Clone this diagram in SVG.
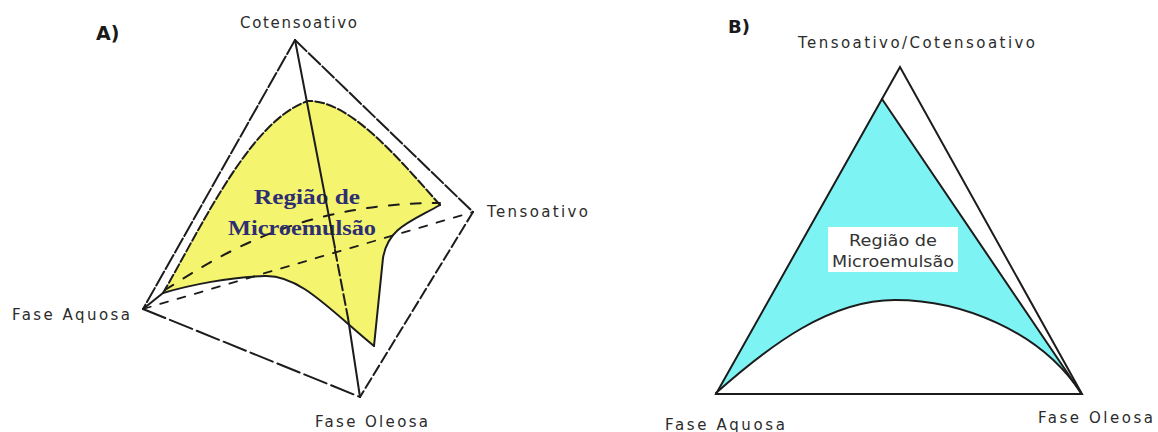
<svg xmlns="http://www.w3.org/2000/svg" width="1158" height="432" viewBox="0 0 1158 432">
  <style>
    .lbl { font-family: "DejaVu Sans", "Liberation Sans", sans-serif; font-size: 15px; fill: #2b2b2b; }
    .ttl { font-family: "DejaVu Sans", "Liberation Sans", sans-serif; font-weight: bold; fill: #1a1a1a; }
    .edge { fill: none; stroke: #1c1c1c; stroke-width: 2; stroke-linecap: round; }
    .d1 { stroke-dasharray: 16 3; }
    .d2 { stroke-dasharray: 24 5; }
    .d3 { stroke-dasharray: 11 4; }
    .hid { stroke-dasharray: 8 10; stroke-width: 1.8; }
    .regA { font-family: "Liberation Serif", serif; font-weight: bold; font-size: 20px; fill: #2e2e72; }
    .regB { font-family: "DejaVu Sans", "Liberation Sans", sans-serif; font-size: 15px; fill: #333; }
  </style>
  <rect width="1158" height="432" fill="#ffffff"/>

  <!-- Panel A -->
  <text class="ttl" x="96" y="40" font-size="19">A)</text>

  <g id="regiaoA">
    <path d="M163,293 C200,230 250,120 308,101 C350,100 400,160 440,205 C410,222 388,228 383,258 L374,346 C330,310 300,275 265,276 C230,277 190,285 163,293 Z" fill="#f4f46e" stroke="none"/>
    <path class="edge" d="M163,293 C200,230 250,120 308,101 C350,100 400,160 440,205" stroke-dasharray="9 3"/>
    <path class="edge" d="M440,205 C410,222 388,228 383,258 L374,346" stroke-width="1.8"/>
    <path class="edge" d="M374,346 C330,310 300,275 265,276 C230,277 190,285 163,293"/>
    <path class="edge" d="M165,290 C220,255 300,203 440,203" stroke-dasharray="10 12" stroke-width="1.6"/>
    <text class="regA" x="254" y="204" textLength="106" lengthAdjust="spacingAndGlyphs">Região de</text>
    <text class="regA" x="228" y="235" textLength="148" lengthAdjust="spacingAndGlyphs">Microemulsão</text>
  </g>

  <g id="conectoresA">
    <line class="edge d1" x1="295" y1="40" x2="143" y2="309"/>
    <line class="edge d1" x1="295" y1="40" x2="473" y2="212"/>
    <line class="edge" x1="295" y1="40" x2="335" y2="248"/>
    <line class="edge d3" x1="335" y1="250" x2="348" y2="318"/>
    <line class="edge" x1="348" y1="318" x2="360" y2="397"/>
    <line class="edge d2" x1="143" y1="309" x2="360" y2="397"/>
    <line class="edge d3" x1="473" y1="212" x2="360" y2="397"/>
    <line class="edge hid" x1="143" y1="309" x2="473" y2="212"/>
    <line class="edge" x1="143" y1="309" x2="163" y2="293" stroke-width="1.6"/>
  </g>

  <g id="cotensoativo">
    <text class="lbl" x="240" y="28" textLength="117" lengthAdjust="spacing">Cotensoativo</text>
  </g>
  <g id="tensoativo">
    <text class="lbl" x="487" y="217" textLength="101" lengthAdjust="spacing">Tensoativo</text>
  </g>
  <g id="faseAquosaA">
    <text class="lbl" x="12" y="320" textLength="118" lengthAdjust="spacing">Fase Aquosa</text>
  </g>
  <g id="faseOleosaA">
    <text class="lbl" x="315" y="427" textLength="113" lengthAdjust="spacing">Fase Oleosa</text>
  </g>

  <!-- Panel B -->
  <text class="ttl" x="728" y="33" font-size="18">B)</text>

  <g id="regiaoB">
    <path d="M882,99 L716,393 C770,345 830,300 895,300 C960,300 1040,330 1081,393 Z" fill="#7ef3f4" stroke="none"/>
    <path class="edge" d="M716,393 C770,345 830,300 895,300 C960,300 1040,330 1081,393" stroke-width="1.8"/>
    <rect x="828" y="227" width="130" height="45" fill="#ffffff"/>
    <text class="regB" x="893" y="246" text-anchor="middle" textLength="88" lengthAdjust="spacingAndGlyphs">Região de</text>
    <text class="regB" x="893" y="267" text-anchor="middle" textLength="122" lengthAdjust="spacingAndGlyphs">Microemulsão</text>
  </g>

  <g id="conectoresB">
    <polygon class="edge" points="900,67 716,394 1082,394" stroke-linejoin="miter"/>
    <line class="edge" x1="882" y1="99" x2="1081" y2="393" stroke-width="1.8"/>
  </g>

  <g id="tensoCotenso">
    <text class="lbl" x="798" y="48" textLength="237" lengthAdjust="spacing">Tensoativo/Cotensoativo</text>
  </g>
  <g id="faseAquosaB">
    <text class="lbl" x="665" y="430" textLength="120" lengthAdjust="spacing">Fase Aquosa</text>
  </g>
  <g id="faseOleosaB">
    <text class="lbl" x="1038" y="423" textLength="115" lengthAdjust="spacing">Fase Oleosa</text>
  </g>
</svg>
